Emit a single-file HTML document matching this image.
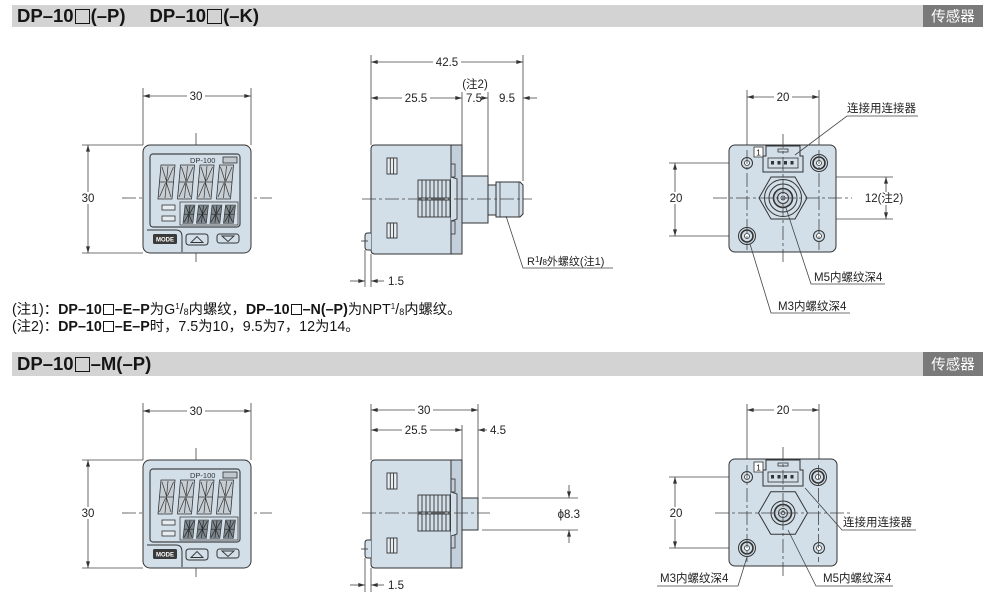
<!DOCTYPE html>
<html><head><meta charset="utf-8">
<style>
html,body{margin:0;padding:0;background:#fff;}
body{width:1000px;height:600px;position:relative;overflow:hidden;font-family:"Liberation Sans","Noto Sans CJK SC",sans-serif;}
svg{position:absolute;left:0;top:0;}
.hd{position:absolute;left:17px;height:22px;line-height:22px;font-weight:bold;font-size:18.5px;color:#151515;white-space:nowrap;}
.sq{display:inline-block;width:15px;height:15px;border:1.8px solid #151515;box-sizing:border-box;vertical-align:-2px;margin:0 1px;}
.note{position:absolute;left:12px;font-size:14.3px;line-height:16px;height:16px;color:#151515;white-space:nowrap;}
.sq2{display:inline-block;width:11px;height:11px;border:1.3px solid #151515;box-sizing:border-box;vertical-align:-1px;margin:0 1px;}
.su{font-size:8px;position:relative;top:-5px;line-height:0;}
.sb{font-size:9px;position:relative;top:1px;line-height:0;}
</style></head><body>
<svg width="1000" height="600" viewBox="0 0 1000 600" xmlns="http://www.w3.org/2000/svg" font-family="Liberation Sans, Noto Sans CJK SC, sans-serif">
<defs>
<marker id="ar" viewBox="0 0 10 6" refX="10" refY="3" markerWidth="7" markerHeight="4" markerUnits="userSpaceOnUse" orient="auto-start-reverse"><path d="M0,0 L10,3 L0,6 Z" fill="#333"/></marker>
<g id="dg"><polygon points="3,0 17,0 14,34 0,34" fill="#c6ced4" stroke="#333" stroke-width=".8"/><path d="M1.5,17 H15.5 M10,1 L7,33 M4,2 L8.5,16 M15.5,2 L9.5,16 M1.5,32 L7.5,18 M13,32 L8.5,18" stroke="#333" stroke-width=".7" fill="none"/></g>
<g id="dg2"><polygon points="3,0 17,0 14,34 0,34" fill="#7f8990" stroke="#333" stroke-width="1"/><path d="M1.5,17 H15.5 M10,1 L7,33 M4,2 L8.5,16 M15.5,2 L9.5,16 M1.5,32 L7.5,18 M13,32 L8.5,18" stroke="#222" stroke-width="1" fill="none"/></g>
</defs>
<style>
.d{stroke:#444;stroke-width:.8;fill:none}
.m{marker-start:url(#ar);marker-end:url(#ar)}
.me{marker-end:url(#ar)}
.c{stroke:#444;stroke-width:.8;stroke-dasharray:14 3 3 3;fill:none}
.o{stroke:#333;stroke-width:1;fill:#d2dfe9}
.ol{stroke:#333;stroke-width:1;fill:none}
.t{font-size:11.5px;fill:#222}
.tc{font-size:11.5px;fill:#222;text-anchor:middle}
</style>

<!-- headers -->
<rect x="12" y="5" width="911" height="22" fill="#d3d3d3"/>
<rect x="923" y="5" width="60" height="22" fill="#7a7a7a"/>
<text x="953" y="21.5" font-size="14.5" fill="#fff" text-anchor="middle">传感器</text>
<rect x="12" y="352" width="911" height="24" fill="#d3d3d3"/>
<rect x="923" y="352" width="60" height="24" fill="#7a7a7a"/>
<text x="953" y="369.5" font-size="14.5" fill="#fff" text-anchor="middle">传感器</text>

<!-- ============ FRONT VIEW 1 ============ -->
<g>
<line class="c" x1="122" y1="198" x2="272" y2="198"/>
<line class="c" x1="196" y1="133" x2="196" y2="265"/>
<line class="d" x1="143" y1="88" x2="143" y2="145"/>
<line class="d" x1="251" y1="88" x2="251" y2="145"/>
<line class="d m" x1="143" y1="96" x2="251" y2="96"/>
<rect x="187" y="90" width="18" height="12" fill="#fff"/>
<text class="tc" x="196" y="100">30</text>
<line class="d" x1="82" y1="145" x2="143" y2="145"/>
<line class="d" x1="82" y1="253" x2="143" y2="253"/>
<line class="d m" x1="88" y1="145" x2="88" y2="253"/>
<rect x="79" y="192" width="18" height="12" fill="#fff"/>
<text class="tc" x="88" y="202">30</text>
<rect class="o" x="143" y="145" width="108" height="108" rx="7"/>
<rect x="150" y="154" width="90" height="73" rx="3" fill="#d2dfe9" stroke="#444" stroke-width="1.2"/>
<path d="M147,230 H176 Q182,230 182,237 V252" class="ol"/>
<text x="190" y="163" font-size="7.5" fill="#333">DP-100</text>
<rect x="223" y="157" width="14" height="6" fill="#c0c8ce" stroke="#333" stroke-width=".8"/>
<use href="#dg" x="158" y="165"/><use href="#dg" x="177.5" y="165"/><use href="#dg" x="197" y="165"/><use href="#dg" x="216.5" y="165"/>
<rect x="162" y="205" width="13" height="5" fill="#e6ecf0" stroke="#333" stroke-width=".8"/>
<rect x="162" y="216" width="13" height="5" fill="#e6ecf0" stroke="#333" stroke-width=".8"/>
<rect x="180" y="202" width="58" height="23" fill="none" stroke="#444" stroke-width=".8"/>
<g transform="translate(183,205) scale(0.7,0.54)"><use href="#dg2"/></g>
<g transform="translate(196.5,205) scale(0.7,0.54)"><use href="#dg2"/></g>
<g transform="translate(210,205) scale(0.7,0.54)"><use href="#dg2"/></g>
<g transform="translate(223.5,205) scale(0.7,0.54)"><use href="#dg2"/></g>
<rect x="153" y="234" width="24" height="10" rx="1.5" fill="#3a3a3a"/>
<text x="165" y="241.5" font-size="6" font-weight="bold" fill="#fff" text-anchor="middle">MODE</text>
<path d="M186,237 Q186,234 189,234 H205 Q208,234 208,237 V242 Q208,245 205,245 H189 Q186,245 186,242 Z" fill="#d2dfe9" stroke="#333" stroke-width="1"/>
<path d="M191,242.5 L197,236.5 L203,242.5 Z" fill="none" stroke="#333" stroke-width=".9"/>
<rect x="217" y="234" width="22" height="9" rx="2.5" fill="#d2dfe9" stroke="#333" stroke-width="1"/>
<path d="M222,236 L228,241.5 L234,236 Z" fill="none" stroke="#333" stroke-width=".9"/>
</g>

<!-- ============ FRONT VIEW 2 ============ -->
<g transform="translate(0,315)">
<line class="c" x1="122" y1="198" x2="272" y2="198"/>
<line class="c" x1="196" y1="133" x2="196" y2="265"/>
<line class="d" x1="143" y1="88" x2="143" y2="145"/>
<line class="d" x1="251" y1="88" x2="251" y2="145"/>
<line class="d m" x1="143" y1="96" x2="251" y2="96"/>
<rect x="187" y="90" width="18" height="12" fill="#fff"/>
<text class="tc" x="196" y="100">30</text>
<line class="d" x1="82" y1="145" x2="143" y2="145"/>
<line class="d" x1="82" y1="253" x2="143" y2="253"/>
<line class="d m" x1="88" y1="145" x2="88" y2="253"/>
<rect x="79" y="192" width="18" height="12" fill="#fff"/>
<text class="tc" x="88" y="202">30</text>
<rect class="o" x="143" y="145" width="108" height="108" rx="7"/>
<rect x="150" y="154" width="90" height="73" rx="3" fill="#d2dfe9" stroke="#444" stroke-width="1.2"/>
<path d="M147,230 H176 Q182,230 182,237 V252" class="ol"/>
<text x="190" y="163" font-size="7.5" fill="#333">DP-100</text>
<rect x="223" y="157" width="14" height="6" fill="#c0c8ce" stroke="#333" stroke-width=".8"/>
<use href="#dg" x="158" y="165"/><use href="#dg" x="177.5" y="165"/><use href="#dg" x="197" y="165"/><use href="#dg" x="216.5" y="165"/>
<rect x="162" y="205" width="13" height="5" fill="#e6ecf0" stroke="#333" stroke-width=".8"/>
<rect x="162" y="216" width="13" height="5" fill="#e6ecf0" stroke="#333" stroke-width=".8"/>
<rect x="180" y="202" width="58" height="23" fill="none" stroke="#444" stroke-width=".8"/>
<g transform="translate(183,205) scale(0.7,0.54)"><use href="#dg2"/></g>
<g transform="translate(196.5,205) scale(0.7,0.54)"><use href="#dg2"/></g>
<g transform="translate(210,205) scale(0.7,0.54)"><use href="#dg2"/></g>
<g transform="translate(223.5,205) scale(0.7,0.54)"><use href="#dg2"/></g>
<rect x="153" y="234" width="24" height="10" rx="1.5" fill="#3a3a3a"/>
<text x="165" y="241.5" font-size="6" font-weight="bold" fill="#fff" text-anchor="middle">MODE</text>
<path d="M186,237 Q186,234 189,234 H205 Q208,234 208,237 V242 Q208,245 205,245 H189 Q186,245 186,242 Z" fill="#d2dfe9" stroke="#333" stroke-width="1"/>
<path d="M191,242.5 L197,236.5 L203,242.5 Z" fill="none" stroke="#333" stroke-width=".9"/>
<rect x="217" y="234" width="22" height="9" rx="2.5" fill="#d2dfe9" stroke="#333" stroke-width="1"/>
<path d="M222,236 L228,241.5 L234,236 Z" fill="none" stroke="#333" stroke-width=".9"/>
</g>

<!-- ============ SIDE VIEW 1 ============ -->
<g>
<line class="d" x1="371" y1="55" x2="371" y2="145"/>
<line class="d" x1="523" y1="55" x2="523" y2="181"/>
<line class="d m" x1="371" y1="62" x2="523" y2="62"/>
<rect x="433" y="56" width="28" height="12" fill="#fff"/>
<text class="tc" x="447" y="66">42.5</text>
<line class="d" x1="462" y1="92" x2="462" y2="145"/>
<line class="d" x1="488" y1="92" x2="488" y2="176"/>
<line class="d m" x1="371" y1="98" x2="462" y2="98"/>
<rect x="402" y="92" width="28" height="12" fill="#fff"/>
<text class="tc" x="416" y="102">25.5</text>
<text class="tc" x="475" y="88">(注2)</text>
<text class="tc" x="474" y="102">7.5</text>
<line class="d me" x1="484" y1="98" x2="488" y2="98"/>
<text class="tc" x="507" y="102">9.5</text>
<line class="d me" x1="537" y1="98" x2="523" y2="98"/>

<path class="o" d="M375,145 H451 V254 H375 Q371,254 371,250 V149 Q371,145 375,145 Z"/>
<rect x="451" y="145" width="11" height="109" fill="#c3d0db" stroke="#333" stroke-width="1"/>
<rect x="451" y="164" width="4" height="13" fill="none" stroke="#333" stroke-width=".8"/>
<rect x="451" y="221" width="4" height="13" fill="none" stroke="#333" stroke-width=".8"/>
<path d="M451,177 L457,179 V219 L451,221" fill="#d2dfe9" stroke="#333" stroke-width=".9"/>
<rect x="418" y="180" width="32" height="18" fill="#d2dfe9" stroke="#333" stroke-width=".9"/>
<rect x="418" y="200" width="32" height="17" fill="#d2dfe9" stroke="#333" stroke-width=".9"/>
<path d="M422,180V198M426,180V198M430,180V198M434,180V198M438,180V198M442,180V198M446,180V198M422,200V217M426,200V217M430,200V217M434,200V217M438,200V217M442,200V217M446,200V217" stroke="#333" stroke-width=".9"/>
<rect x="387" y="158" width="10" height="16" fill="#e8eef2" stroke="#333" stroke-width=".9"/>
<path d="M390.3,158V174M393.6,158V174" stroke="#333" stroke-width=".9"/>
<rect x="387" y="223" width="10" height="15" fill="#e8eef2" stroke="#333" stroke-width=".9"/>
<path d="M390.3,223V238M393.6,223V238" stroke="#333" stroke-width=".9"/>
<path class="o" d="M371,233 H367.5 Q365,233 365,236 V247 Q365,250 367.5,250 H371"/>
<line x1="361" y1="241" x2="368" y2="241" stroke="#333" stroke-width=".8"/>
<rect class="o" x="462" y="176" width="26" height="47"/>
<rect class="o" x="488" y="185" width="8" height="30"/>
<path class="o" d="M496,182 H520 L523,185 V214 L520,217 H496 Z"/>
<path d="M500,182V217M519,182V217" stroke="#333" stroke-width=".8"/>
<line class="c" x1="362" y1="199" x2="532" y2="199"/>

<line class="d" x1="365" y1="250" x2="365" y2="287"/>
<line class="d" x1="371" y1="254" x2="371" y2="287"/>
<line class="d me" x1="350" y1="281" x2="365" y2="281"/>
<line class="d me" x1="384" y1="281" x2="371" y2="281"/>
<text class="t" x="388" y="285">1.5</text>

<polyline class="d" points="506,216 523,268 613,268"/>
<text x="527" y="265" font-size="11" fill="#222">R<tspan font-size="8" dy="-3">1</tspan><tspan dy="3" font-weight="bold">/</tspan><tspan font-size="8">8</tspan>外螺纹(注1)</text>
</g>

<!-- ============ SIDE VIEW 2 ============ -->
<g>
<line class="d" x1="371" y1="404" x2="371" y2="460"/>
<line class="d" x1="478" y1="404" x2="478" y2="498"/>
<line class="d m" x1="371" y1="410" x2="478" y2="410"/>
<rect x="415" y="404" width="18" height="12" fill="#fff"/>
<text class="tc" x="424" y="414">30</text>
<line class="d" x1="462" y1="425" x2="462" y2="460"/>
<line class="d m" x1="371" y1="430" x2="462" y2="430"/>
<rect x="402" y="424" width="28" height="12" fill="#fff"/>
<text class="tc" x="416" y="434">25.5</text>
<line class="d me" x1="487" y1="430" x2="478" y2="430"/>
<text class="t" x="490" y="434">4.5</text>

<path class="o" d="M375,460 H451 V568 H375 Q371,568 371,564 V464 Q371,460 375,460 Z"/>
<rect x="451" y="460" width="11" height="108" fill="#c3d0db" stroke="#333" stroke-width="1"/>
<rect x="451" y="479" width="4" height="13" fill="none" stroke="#333" stroke-width=".8"/>
<rect x="451" y="535" width="4" height="13" fill="none" stroke="#333" stroke-width=".8"/>
<path d="M451,492 L457,494 V534 L451,536" fill="#d2dfe9" stroke="#333" stroke-width=".9"/>
<rect x="418" y="495" width="32" height="17" fill="#d2dfe9" stroke="#333" stroke-width=".9"/>
<rect x="418" y="514" width="32" height="17" fill="#d2dfe9" stroke="#333" stroke-width=".9"/>
<path d="M422,495V512M426,495V512M430,495V512M434,495V512M438,495V512M442,495V512M446,495V512M422,514V531M426,514V531M430,514V531M434,514V531M438,514V531M442,514V531M446,514V531" stroke="#333" stroke-width=".9"/>
<rect x="387" y="473" width="10" height="16" fill="#e8eef2" stroke="#333" stroke-width=".9"/>
<path d="M390.3,473V489M393.6,473V489" stroke="#333" stroke-width=".9"/>
<rect x="387" y="538" width="10" height="15" fill="#e8eef2" stroke="#333" stroke-width=".9"/>
<path d="M390.3,538V553M393.6,538V553" stroke="#333" stroke-width=".9"/>
<path class="o" d="M371,540 H367.5 Q365,540 365,543 V555 Q365,558 367.5,558 H371"/>
<line x1="361" y1="549" x2="368" y2="549" stroke="#333" stroke-width=".8"/>
<rect class="o" x="462" y="498" width="16" height="32"/>
<line class="c" x1="362" y1="513" x2="490" y2="513"/>

<line class="d" x1="482" y1="498" x2="578" y2="498"/>
<line class="d" x1="482" y1="530" x2="578" y2="530"/>
<line class="d me" x1="569" y1="485" x2="569" y2="498"/>
<line class="d me" x1="569" y1="543" x2="569" y2="530"/>
<text class="t" x="580" y="518" text-anchor="end">ϕ8.3</text>

<line class="d" x1="365" y1="558" x2="365" y2="592"/>
<line class="d" x1="371" y1="568" x2="371" y2="592"/>
<line class="d me" x1="350" y1="585" x2="365" y2="585"/>
<line class="d me" x1="384" y1="585" x2="371" y2="585"/>
<text class="t" x="388" y="589">1.5</text>
</g>

<!-- ============ BACK VIEW 1 ============ -->
<g>
<line class="d" x1="747" y1="90" x2="747" y2="157"/>
<line class="d" x1="819" y1="90" x2="819" y2="155"/>
<line class="d m" x1="747" y1="97" x2="819" y2="97"/>
<rect x="774" y="91" width="18" height="12" fill="#fff"/>
<text class="tc" x="783" y="101">20</text>
<line class="d" x1="669" y1="163" x2="741" y2="163"/>
<line class="d" x1="669" y1="236" x2="738" y2="236"/>
<line class="d m" x1="675" y1="163" x2="675" y2="236"/>
<rect x="667" y="192" width="18" height="12" fill="#fff"/>
<text class="tc" x="676" y="202">20</text>
<line class="d" x1="797" y1="177" x2="893" y2="177"/>
<line class="d" x1="797" y1="219" x2="893" y2="219"/>
<line class="d m" x1="886" y1="177" x2="886" y2="219"/>
<rect x="864" y="192" width="40" height="13" fill="#fff"/>
<text class="tc" x="884" y="202">12(注2)</text>

<rect class="o" x="729" y="145" width="107" height="107" rx="6"/>
<circle cx="747" cy="163" r="5.5" class="o"/><circle cx="747" cy="163" r="2.5" fill="#fff" stroke="#333" stroke-width=".8"/>
<circle cx="819" cy="163" r="8.5" class="o"/><circle cx="819" cy="163" r="6" fill="none" stroke="#333" stroke-width="1.6"/><circle cx="819" cy="163" r="2.5" fill="#fff" stroke="#333" stroke-width=".8"/>
<circle cx="747" cy="236" r="8.5" class="o"/><circle cx="747" cy="236" r="6" fill="none" stroke="#333" stroke-width="1.6"/><circle cx="747" cy="236" r="2.5" fill="#fff" stroke="#333" stroke-width=".8"/>
<circle cx="819" cy="236" r="5.5" class="o"/><circle cx="819" cy="236" r="2.5" fill="#fff" stroke="#333" stroke-width=".8"/>
<polygon class="o" points="766,146 800,146 800,156 803,156 803,172 763,172 763,156 766,156"/>
<rect x="768" y="158" width="30" height="10" fill="none" stroke="#333" stroke-width=".8"/>
<rect x="778" y="149" width="10" height="3" fill="none" stroke="#333" stroke-width=".8"/>
<rect x="771" y="161" width="3" height="3.5" fill="#333"/><rect x="777.5" y="161" width="3" height="3.5" fill="#333"/><rect x="784" y="161" width="3" height="3.5" fill="#333"/><rect x="790.5" y="161" width="3" height="3.5" fill="#333"/>
<rect x="754" y="147" width="9" height="10" fill="#fff" stroke="#333" stroke-width=".8"/>
<text x="758.5" y="155.5" font-size="8.5" fill="#222" text-anchor="middle">1</text>
<polygon class="o" points="759,198 771,177 795,177 807,198 795,219 771,219"/>
<circle cx="783" cy="198" r="18.5" class="o"/>
<circle cx="783" cy="198" r="14" fill="none" stroke="#333" stroke-width="1"/>
<circle cx="783" cy="198" r="9.5" fill="#c4d0da" stroke="#333" stroke-width="1.6"/>
<circle cx="783" cy="198" r="5.5" fill="#d2dfe9" stroke="#333" stroke-width="1"/>
<circle cx="783" cy="198" r="2" fill="none" stroke="#333" stroke-width=".8"/>
<line class="c" x1="713" y1="198" x2="852" y2="198"/>
<line class="c" x1="783" y1="134" x2="783" y2="262"/>
<line class="c" x1="747" y1="150" x2="747" y2="250"/>
<line class="c" x1="819" y1="150" x2="819" y2="250"/>
<polyline class="d" points="795,155 847,116 918,116"/>
<text class="t" x="847" y="112">连接用连接器</text>
<polyline class="d" points="786,208 811,284 885,284"/>
<text class="t" x="814" y="281">M5内螺纹深4</text>
<polyline class="d" points="750,244 771,313 850,313"/>
<text class="t" x="778" y="310">M3内螺纹深4</text>
</g>

<!-- ============ BACK VIEW 2 ============ -->
<g>
<line class="d" x1="747" y1="404" x2="747" y2="471"/>
<line class="d" x1="819" y1="404" x2="819" y2="469"/>
<line class="d m" x1="747" y1="410" x2="819" y2="410"/>
<rect x="774" y="404" width="18" height="12" fill="#fff"/>
<text class="tc" x="783" y="414">20</text>
<line class="d" x1="669" y1="477" x2="741" y2="477"/>
<line class="d" x1="669" y1="548" x2="739" y2="548"/>
<line class="d m" x1="675" y1="477" x2="675" y2="548"/>
<rect x="667" y="507" width="18" height="12" fill="#fff"/>
<text class="tc" x="676" y="517">20</text>

<rect class="o" x="729" y="459" width="108" height="107" rx="6"/>
<circle cx="747" cy="477" r="5.5" class="o"/><circle cx="747" cy="477" r="2.5" fill="#fff" stroke="#333" stroke-width=".8"/>
<circle cx="818" cy="477" r="8.5" class="o"/><circle cx="818" cy="477" r="6" fill="none" stroke="#333" stroke-width="1.6"/><circle cx="818" cy="477" r="2.5" fill="#fff" stroke="#333" stroke-width=".8"/>
<circle cx="747" cy="548" r="8.5" class="o"/><circle cx="747" cy="548" r="6" fill="none" stroke="#333" stroke-width="1.6"/><circle cx="747" cy="548" r="2.5" fill="#fff" stroke="#333" stroke-width=".8"/>
<circle cx="819" cy="548" r="5.5" class="o"/><circle cx="819" cy="548" r="2.5" fill="#fff" stroke="#333" stroke-width=".8"/>
<polygon class="o" points="766,460 800,460 800,470 803,470 803,486 763,486 763,470 766,470"/>
<rect x="768" y="472" width="30" height="10" fill="none" stroke="#333" stroke-width=".8"/>
<rect x="778" y="463" width="10" height="3" fill="none" stroke="#333" stroke-width=".8"/>
<rect x="771" y="475" width="3" height="3.5" fill="#333"/><rect x="777.5" y="475" width="3" height="3.5" fill="#333"/><rect x="784" y="475" width="3" height="3.5" fill="#333"/><rect x="790.5" y="475" width="3" height="3.5" fill="#333"/>
<rect x="754" y="462" width="9" height="10" fill="#fff" stroke="#333" stroke-width=".8"/>
<text x="758.5" y="470.5" font-size="8.5" fill="#222" text-anchor="middle">1</text>
<polygon class="o" points="758.5,513 770.75,491.8 795.25,491.8 807.5,513 795.25,534.2 770.75,534.2"/>
<circle cx="783" cy="513" r="12" class="o"/>
<circle cx="783" cy="513" r="8.5" fill="#c4d0da" stroke="#333" stroke-width="1.6"/>
<circle cx="783" cy="513" r="4.5" fill="#d2dfe9" stroke="#333" stroke-width="1"/>
<circle cx="783" cy="513" r="1.8" fill="none" stroke="#333" stroke-width=".8"/>
<line class="c" x1="715" y1="513" x2="853" y2="513"/>
<line class="c" x1="783" y1="447" x2="783" y2="577"/>
<line class="c" x1="747" y1="465" x2="747" y2="562"/>
<line class="c" x1="818.5" y1="465" x2="818.5" y2="562"/>
<polyline class="d" points="805,488 842,530 916,530"/>
<text class="t" x="843" y="526">连接用连接器</text>
<polyline class="d" points="788,530 816,586 893,586"/>
<text class="t" x="823" y="582">M5内螺纹深4</text>
<polyline class="d" points="747,557 738,586 657,586"/>
<text class="t" x="660" y="582">M3内螺纹深4</text>
</g>
</svg>

<div class="hd" style="top:5px;">DP–10<span class="sq"></span>(–P)<span style="display:inline-block;width:24px"></span>DP–10<span class="sq"></span>(–K)</div>
<div class="hd" style="top:353px;">DP–10<span class="sq"></span>–M(–P)</div>

<div class="note" style="top:302px;">(注1)：<b>DP–10<span class="sq2"></span>–E–P</b>为G<span class="su">1</span>/<span class="sb">8</span>内螺纹，<b>DP–10<span class="sq2"></span>–N(–P)</b>为NPT<span class="su">1</span>/<span class="sb">8</span>内螺纹。</div>
<div class="note" style="top:319px;">(注2)：<b>DP–10<span class="sq2"></span>–E–P</b>时，7.5为10，9.5为7，12为14。</div>
</body></html>
